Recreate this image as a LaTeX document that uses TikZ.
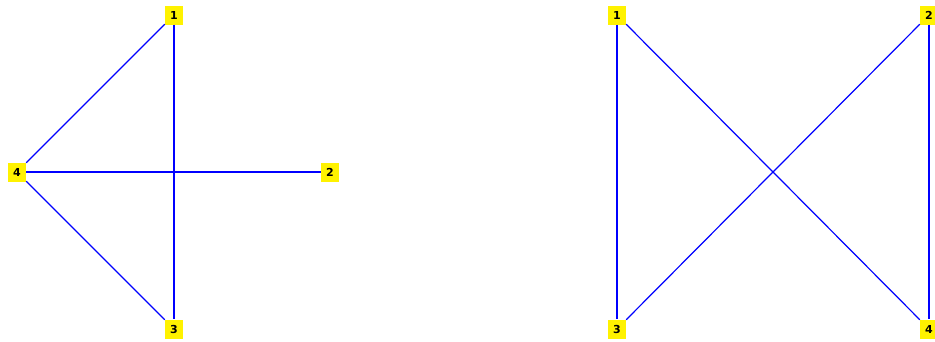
\documentclass[tikz,border=0pt]{standalone}
\usepackage{fontspec}
\setmainfont{DejaVu Sans}
\begin{document}
\begin{tikzpicture}[x=1pt,y=-1pt,
  vtx/.style={fill=yellow, inner sep=0pt, minimum width=18pt, minimum height=19pt, font=\fontsize{11}{11}\selectfont\bfseries},
  edge/.style={draw=blue, line width=1.2pt}]
\useasboundingbox (0,0) rectangle (935,341);
% left graph
\node[vtx] (a1) at (174,15) {1};
\node[vtx] (a2) at (330,172) {2};
\node[vtx] (a3) at (174,329) {3};
\node[vtx] (a4) at (17,172) {4};
% right graph
\node[vtx] (b1) at (617,15) {1};
\node[vtx] (b2) at (929,15) {2};
\node[vtx] (b3) at (617,329) {3};
\node[vtx] (b4) at (929,329) {4};
\draw[edge] (a1) -- (a4);
\draw[edge] (a1) -- (a3);
\draw[edge] (a4) -- (a2);
\draw[edge] (a4) -- (a3);
\draw[edge] (b1) -- (b3);
\draw[edge] (b1) -- (b4);
\draw[edge] (b2) -- (b3);
\draw[edge] (b2) -- (b4);
\end{tikzpicture}
\end{document}
